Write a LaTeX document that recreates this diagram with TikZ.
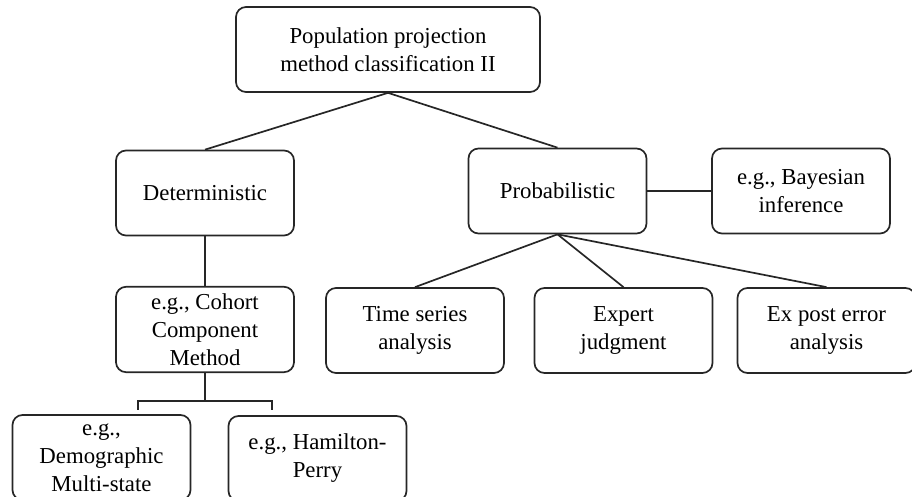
\documentclass[tikz,border=0pt]{standalone}
\usepackage{fontspec}
\setmainfont{Liberation Serif}
\usepackage{tikz}

\begin{document}
\begin{tikzpicture}[x=0.5pt, y=-0.5pt, line width=0.85pt, draw=black!85,
    main/.style = {draw, rounded corners=5pt, minimum width=89pt, minimum height=42.5pt,
                   align=center, font=\fontsize{11.4}{14}\selectfont}]
            \useasboundingbox (0,0) rectangle (912,497);
            \clip (0,0) rectangle (912,497);
            \node[main, minimum width=152pt] (1) at (388,49.5) {Population projection\\method classification II};
            \node[main] (2) at (205,193) {Deterministic};
            \node[main] (3) at (557.5,191) {Probabilistic};
            \node[main] (4) at (801,191) {e.g., Bayesian\\inference};
            \node[main] (5) at (205,329.5) {e.g., Cohort\\Component\\Method};
            \node[main] (6) at (415,330.5) {Time series\\analysis};
            \node[main] (7) at (623.5,330.5) {Expert\\judgment};
            \node[main] (8) at (826.5,330.5) {Ex post error\\analysis};
            \node[main] (9) at (101.5,457.5) {e.g.,\\Demographic\\Multi-state};
            \node[main] (10) at (317.5,458.5) {e.g., Hamilton-\\Perry};
            \coordinate (l) at (138,410);
            \coordinate (r) at (272,410);
            \draw (1.south) -- (2.north);
            \draw (1.south) -- (3.north);
            \draw (3.east) -- (4.west);
            \draw (2.south) -- (5.north);
            \draw (3.south) -- (6.north);
            \draw (3.south) -- (7.north);
            \draw (3.south) -- (8.north);
            \draw (5.south) -- (5.south |- 0,401);
            \draw (l) -- ++(0,-9) -| (r);
            \end{tikzpicture}
\end{document}
